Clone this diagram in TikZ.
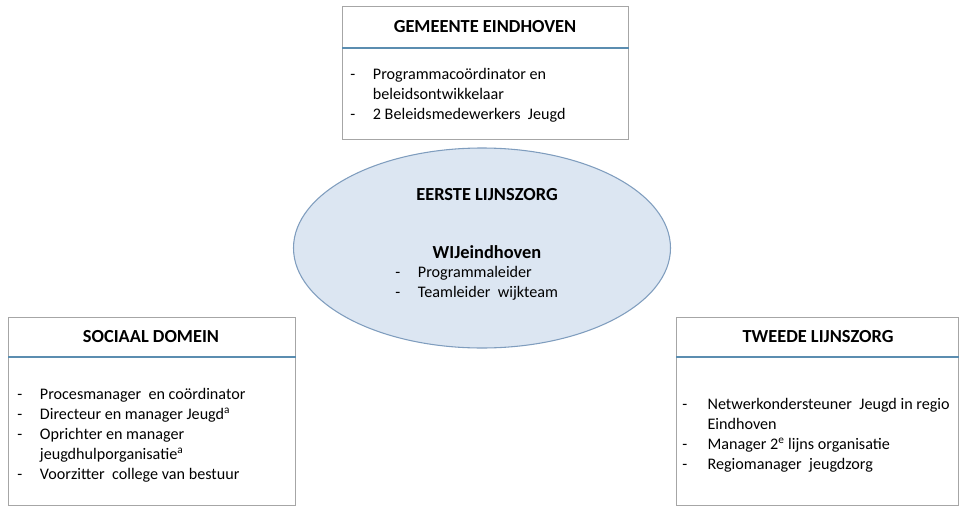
\documentclass[tikz,border=0pt]{standalone}
\usepackage{fontspec}
\setmainfont{Carlito}
\usepackage{array}
\definecolor{orgframe}{HTML}{A6A6A6}
\definecolor{orgrule}{HTML}{5B8DB0}
\definecolor{orgfill}{HTML}{DCE6F2}
\definecolor{orgedge}{HTML}{7F9DBE}
\usetikzlibrary{shapes.geometric}

\begin{document}
\begin{tikzpicture}[x=0.75pt,y=-0.75pt,
  frame/.style={draw=orgframe,fill=white,inner sep=0pt,anchor=north west},
  head/.style={font=\fontsize{13.8}{16}\selectfont\bfseries,inner sep=0pt},
  body/.style={font=\fontsize{12.1}{15}\selectfont,inner sep=0pt,anchor=base west},
  bar/.style={draw=orgrule,line width=0.8pt},
  cloud/.style={ellipse,draw=orgedge,fill=orgfill,line width=0.8pt,inner sep=0pt,
    minimum width=377*0.75pt,minimum height=200*0.75pt}]
  \useasboundingbox (0,0) rectangle (964,507);
  % top box
  \node[frame,minimum width=286*0.75pt,minimum height=133*0.75pt] (gem) at (342,6) {};
  \draw[bar] (gem.west |- 0,48) -- (gem.east |- 0,48);
  \node[head] (gemhead) at (485,27) {GEMEENTE EINDHOVEN};
  \node[body] (gembody) at (350,79) {\begin{tabular}[t]{@{}p{17pt}@{}l@{}}
    - & Programmacoördinator en\\
      & beleidsontwikkelaar\\
    - & 2 Beleidsmedewerkers\ \ Jeugd
  \end{tabular}};
  % centre ellipse
  \node[cloud] (eerste) at (482,248) {};
  \node[head] (eerstehead) at (487,195) {EERSTE LIJNSZORG};
  \node[head,font=\fontsize{13.8}{16}\selectfont\bfseries] (wij) at (487,252) {WIJeindhoven};
  \node[body] (wijbody) at (395,277) {\begin{tabular}[t]{@{}p{17pt}@{}l@{}}
    - & Programmaleider\\
    - & Teamleider\ \ wijkteam
  \end{tabular}};
  % left box
  \node[frame,minimum width=287*0.75pt,minimum height=188*0.75pt] (soc) at (8,317) {};
  \draw[bar] (soc.west |- 0,357) -- (soc.east |- 0,357);
  \node[head] (sochead) at (151,337) {SOCIAAL DOMEIN};
  \node[body] (socbody) at (17,399) {\begin{tabular}[t]{@{}p{17pt}@{}l@{}}
    - & Procesmanager\ \ en coördinator\\
    - & Directeur en manager Jeugd\textsuperscript{a}\\
    - & Oprichter en manager\\
      & jeugdhulporganisatie\textsuperscript{a}\\
    - & Voorzitter\ \ college van bestuur
  \end{tabular}};
  % right box
  \node[frame,minimum width=282*0.75pt,minimum height=188*0.75pt] (twee) at (676,317) {};
  \draw[bar] (twee.west |- 0,357) -- (twee.east |- 0,357);
  \node[head] (tweehead) at (818,337) {TWEEDE LIJNSZORG};
  \node[body] (tweebody) at (682,409) {\begin{tabular}[t]{@{}p{19pt}@{}l@{}}
    - & Netwerkondersteuner\ \ Jeugd in regio\\
      & Eindhoven\\
    - & Manager 2\textsuperscript{e} lijns organisatie\\
    - & Regiomanager\ \ jeugdzorg
  \end{tabular}};
\end{tikzpicture}
\end{document}
